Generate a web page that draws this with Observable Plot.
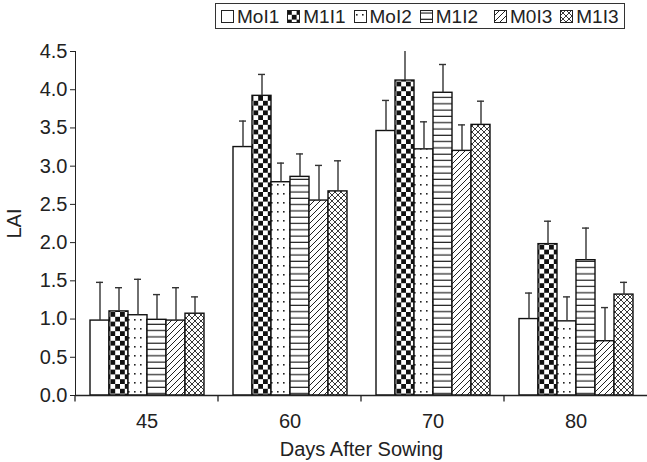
<!DOCTYPE html>
<html><head><meta charset="utf-8">
<script src="https://cdn.jsdelivr.net/npm/d3@7"></script>
<script src="https://cdn.jsdelivr.net/npm/@observablehq/plot@0.6"></script>
<style>
body{margin:0;background:#fff;font-family:"Liberation Sans",Arial,sans-serif;}
#wrap{position:relative;width:647px;height:462px;}
#legend{position:absolute;left:215px;top:3px;box-sizing:border-box;height:26px;border:1.3px solid #333;display:flex;align-items:center;padding:0 5px;gap:8px;font-size:19px;color:#222;background:#fff;}
#legend .it{display:flex;align-items:center;gap:3px;line-height:1;}
#legend svg{display:block;}
</style></head><body>
<div id="wrap"><div id="chart"></div><div id="legend"></div></div>
<script>
const days = ["45", "60", "70", "80"];
const series = ["MoI1", "M1I1", "MoI2", "M1I2", "M0I3", "M1I3"];
const yTicks = [0, 0.5, 1, 1.5, 2, 2.5, 3, 3.5, 4, 4.5];

// LAI means per series (one value per day)
const laiMoI1 = [0.98, 3.25, 3.46, 1.00];
const laiM1I1 = [1.10, 3.92, 4.12, 1.98];
const laiMoI2 = [1.05, 2.79, 3.22, 0.97];
const laiM1I2 = [0.99, 2.86, 3.96, 1.77];
const laiM0I3 = [0.98, 2.55, 3.20, 0.71];
const laiM1I3 = [1.07, 2.67, 3.54, 1.32];

// upper error amounts
const errMoI1 = [0.50, 0.34, 0.40, 0.34];
const errM1I1 = [0.31, 0.28, 0.48, 0.30];
const errMoI2 = [0.47, 0.25, 0.36, 0.32];
const errM1I2 = [0.33, 0.30, 0.37, 0.42];
const errM0I3 = [0.43, 0.46, 0.34, 0.44];
const errM1I3 = [0.22, 0.40, 0.31, 0.16];

const laiBySeries = [laiMoI1, laiM1I1, laiMoI2, laiM1I2, laiM0I3, laiM1I3];
const errBySeries = [errMoI1, errM1I1, errMoI2, errM1I2, errM0I3, errM1I3];

const data = [];
series.forEach((s, i) => days.forEach((d, j) => {
  data.push({day: d, series: s, value: laiBySeries[i][j], err: errBySeries[i][j]});
}));

const patIds = series.map((s, i) => "pat" + i);

const ink = "#222";

const plot = Plot.plot({
  width: 647,
  height: 462,
  marginTop: 51,
  marginBottom: 67,
  marginLeft: 75,
  marginRight: 0,
  style: {fontFamily: "'Liberation Sans', Arial, sans-serif", fontSize: "20px", color: ink, background: "#fff"},
  fx: {domain: days, padding: 0, axis: "bottom", tickSize: 0, tickPadding: 18, label: "Days After Sowing", labelAnchor: "center", labelArrow: "none", labelOffset: 60},
  x: {domain: series, paddingInner: 0, paddingOuter: 0.7, axis: null},
  y: {domain: [0, 4.5], ticks: yTicks, tickFormat: d3.format(".1f"), tickSize: 5, tickPadding: 3, line: true, label: "LAI", labelAnchor: "center", labelArrow: "none", labelOffset: 69},
  color: {domain: series, range: patIds.map(id => `url(#${id})`)},
  marks: [
    Plot.barY(data, {fx: "day", x: "series", y: "value", fill: "series", stroke: "#111", strokeWidth: 1.4}),
    Plot.ruleX(data, {fx: "day", x: "series", y1: "value", y2: d => d.value + d.err, stroke: "#333", strokeWidth: 1.4, clip: true}),
    Plot.tickY(data, {fx: "day", x: "series", y: d => d.value + d.err, insetLeft: 6, insetRight: 6, stroke: "#333", strokeWidth: 1.4, clip: true}),
    Plot.ruleY([0], {
      stroke: ink, strokeWidth: 1.3,
      render(index, scales, values, dimensions, context, next) {
        const g = next(index, scales, values, dimensions, context);
        const y0 = dimensions.height - dimensions.marginBottom;
        const x0 = dimensions.marginLeft;
        const ln = d3.create("svg:line")
          .attr("x1", x0).attr("x2", x0).attr("y1", y0).attr("y2", y0 + 6)
          .attr("stroke", ink).attr("stroke-width", 1.3);
        g.appendChild(ln.node());
        return g;
      }
    })
  ]
});

// patterns
const svg = d3.select(plot);
const defs = svg.insert("defs", ":first-child");
function pat(id, w, h) {
  const p = defs.append("pattern").attr("id", id).attr("patternUnits", "userSpaceOnUse").attr("width", w).attr("height", h);
  p.append("rect").attr("width", w).attr("height", h).attr("fill", "#fff");
  return p;
}
pat("pat0", 10, 10);
{ const p = pat("pat1", 9.6, 9.6);
  p.append("rect").attr("x", 0).attr("y", 0).attr("width", 4.8).attr("height", 4.8).attr("fill", "#111");
  p.append("rect").attr("x", 4.8).attr("y", 4.8).attr("width", 4.8).attr("height", 4.8).attr("fill", "#111"); }
{ const p = pat("pat2", 6, 9);
  p.append("rect").attr("x", 2).attr("y", 4).attr("width", 1.6).attr("height", 1.6).attr("fill", "#222"); }
{ const p = pat("pat3", 10, 6.3);
  p.append("line").attr("x1", 0).attr("x2", 10).attr("y1", 3).attr("y2", 3).attr("stroke", "#222").attr("stroke-width", 1.2); }
{ const p = pat("pat4", 6, 6);
  p.append("path").attr("d", "M0,6L6,0M-1,1L1,-1M5,7L7,5").attr("stroke", "#222").attr("stroke-width", 1); }
{ const p = pat("pat5", 6, 6);
  p.append("path").attr("d", "M0,6L6,0M-1,1L1,-1M5,7L7,5M0,0L6,6M-1,5L1,7M5,-1L7,1").attr("stroke", "#222").attr("stroke-width", 0.9); }

document.getElementById("chart").appendChild(plot);

// legend
const legend = d3.select("#legend");
series.forEach((s, i) => {
  const it = legend.append("div").attr("class", "it");
  if (s === "M0I3") it.style("margin-left", "8px");
  const sw = it.append("svg").attr("width", 13).attr("height", 13);
  sw.append("rect").attr("x", 0.5).attr("y", 0.5).attr("width", 12).attr("height", 12)
    .attr("fill", `url(#${patIds[i]})`).attr("stroke", ink).attr("stroke-width", 1);
  it.append("span").text(s);
});
</script>
</body></html>
